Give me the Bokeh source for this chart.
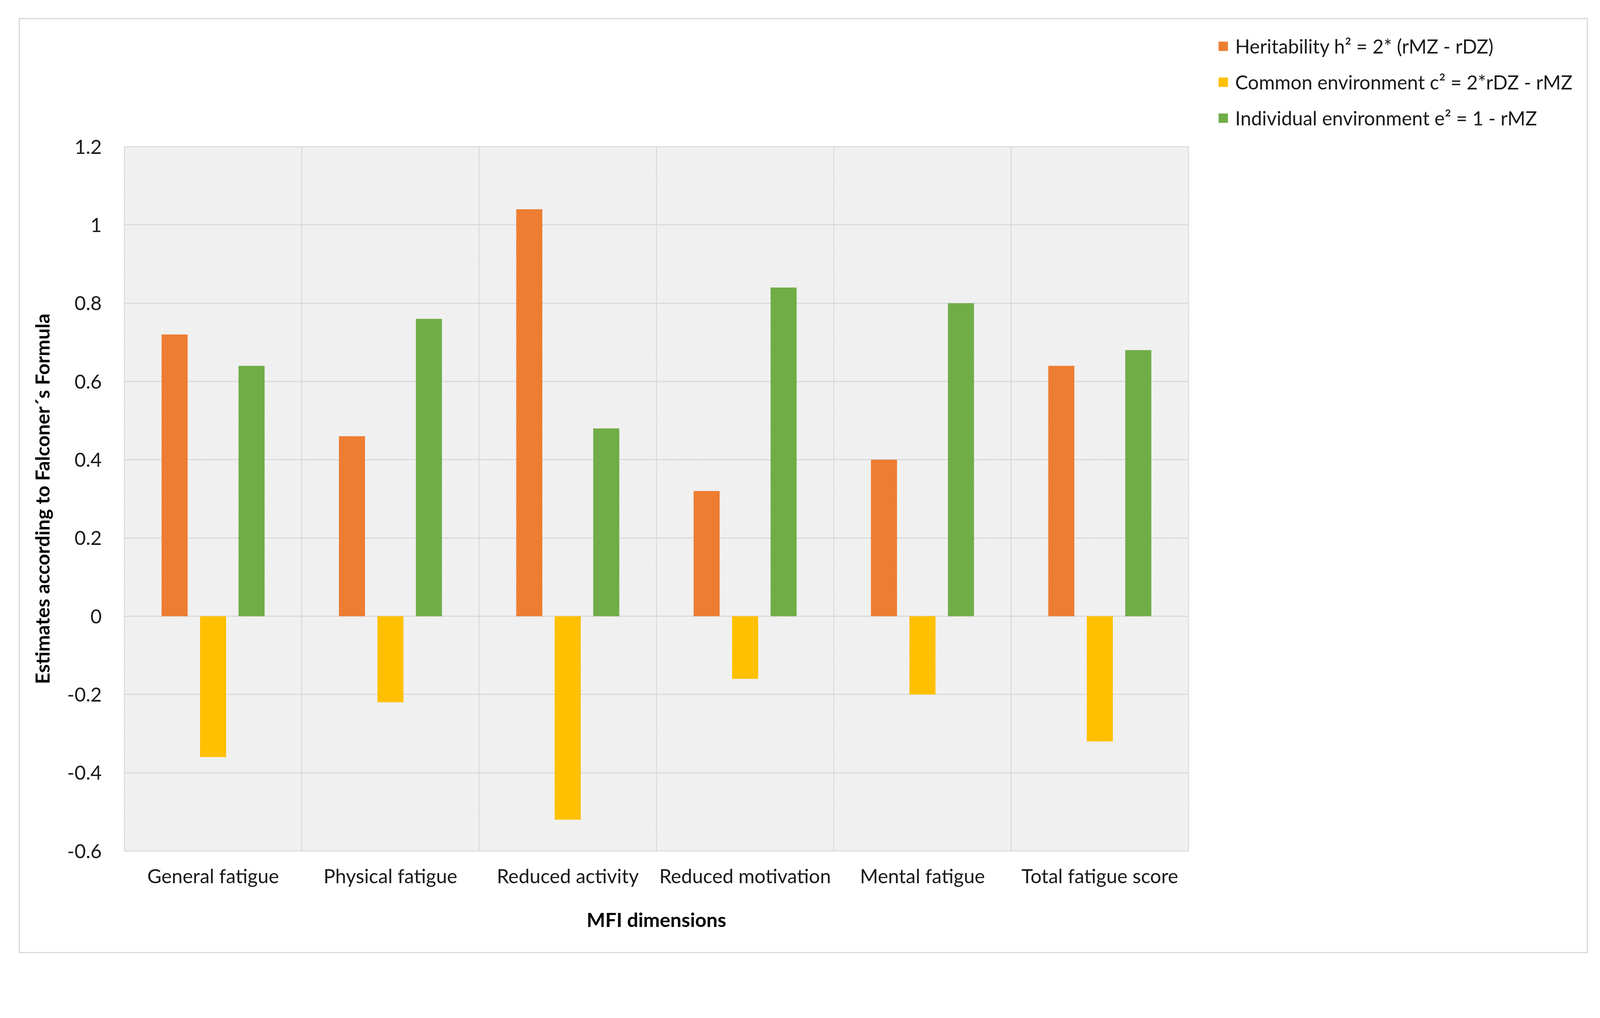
from bokeh.plotting import figure
from bokeh.layouts import row
from bokeh.models import (FactorRange, Range1d, FixedTicker, CustomJSTickFormatter,
                          Span, BoxAnnotation, Legend, LegendItem, ColumnDataSource)
from bokeh.transform import dodge
from bokeh.embed import file_html
from bokeh.resources import INLINE

# ---- data ----
categories = ["General fatigue", "Physical fatigue", "Reduced activity",
              "Reduced motivation", "Mental fatigue", "Total fatigue score"]
heritability = [0.72, 0.46, 1.04, 0.32, 0.40, 0.64]
common_env = [-0.36, -0.22, -0.52, -0.16, -0.20, -0.32]
individual_env = [0.64, 0.76, 0.48, 0.84, 0.80, 0.68]
series_labels = ["Heritability h\u00b2 = 2* (rMZ - rDZ)",
                 "Common environment c\u00b2 = 2*rDZ - rMZ",
                 "Individual environment e\u00b2 = 1 - rMZ"]
y_ticks = [-0.6, -0.4, -0.2, 0, 0.2, 0.4, 0.6, 0.8, 1.0, 1.2]
x_title = "MFI dimensions"
y_title = "Estimates according to Falconer\u00b4s Formula"

colors = ["#ED7D31", "#FFC000", "#70AD47"]
FONT = "Lato"
FS = "50px"
TXT = "#1a1a1a"
GRID = "#d9d9d9"

TOTAL_W, TOTAL_H = 4011, 2388
FRAME_W, FRAME_H = 2724, 1803
ML, MT = 267, 326
MAIN_W = ML + FRAME_W + 6
MB = TOTAL_H - MT - FRAME_H

src = ColumnDataSource(dict(cat=categories, h=heritability, c=common_env, e=individual_env))

p = figure(x_range=FactorRange(*categories), y_range=Range1d(-0.6, 1.2),
           width=MAIN_W, height=TOTAL_H, output_backend="svg", toolbar_location=None,
           min_border_left=ML, min_border_right=6, min_border_top=MT, min_border_bottom=MB)
p.frame_align = False
p.background_fill_color = "white"
p.border_fill_color = "white"
p.outline_line_color = GRID
p.outline_line_width = 2.4

# hatched plot area
p.add_layout(BoxAnnotation(fill_alpha=0, line_color=None, hatch_pattern="\\",
                           hatch_color="#d0d0d0", hatch_scale=7.6, hatch_weight=1.1,
                           level="underlay"))

# vertical gridlines at category boundaries
for b in range(1, len(categories)):
    p.add_layout(Span(location=b, dimension="height", line_color=GRID,
                      line_width=2.4, level="underlay"))

w = 0.147
off = 0.217
r1 = p.vbar(x=dodge("cat", -off, range=p.x_range), top="h", bottom=0, width=w,
            source=src, fill_color=colors[0], line_color=None)
r2 = p.vbar(x=dodge("cat", 0.0, range=p.x_range), top="c", bottom=0, width=w,
            source=src, fill_color=colors[1], line_color=None)
r3 = p.vbar(x=dodge("cat", off, range=p.x_range), top="e", bottom=0, width=w,
            source=src, fill_color=colors[2], line_color=None)

# axes
p.yaxis.ticker = FixedTicker(ticks=y_ticks)
p.yaxis.formatter = CustomJSTickFormatter(code="return String(Math.round(tick*10)/10);")
p.ygrid.ticker = FixedTicker(ticks=y_ticks)
p.ygrid.grid_line_color = GRID
p.ygrid.grid_line_width = 2.4
p.xgrid.grid_line_color = None

for ax in (p.xaxis[0], p.yaxis[0]):
    ax.axis_line_color = None
    ax.major_tick_line_color = None
    ax.minor_tick_line_color = None
    ax.major_label_text_font = FONT
    ax.major_label_text_font_size = FS
    ax.major_label_text_color = TXT
    ax.axis_label_text_font = FONT
    ax.axis_label_text_font_size = "50.5px"
    ax.axis_label_text_font_style = "bold"
    ax.axis_label_text_color = "#000000"

p.yaxis.axis_label = y_title
p.yaxis.major_label_standoff = 52
p.yaxis.axis_label_standoff = 31
p.xaxis.axis_label = x_title
p.xaxis.major_label_standoff = 27
p.xaxis.axis_label_standoff = 48

# ---- legend panel (a second, axis-less figure to the right) ----
q = figure(width=TOTAL_W - MAIN_W, height=TOTAL_H, output_backend="svg",
           toolbar_location=None, x_axis_type=None, y_axis_type=None,
           x_range=Range1d(0, 1), y_range=Range1d(0, 1),
           min_border_left=30, min_border_right=0,
           min_border_top=0, min_border_bottom=0)
q.frame_align = False
q.title.visible = False
q.outline_line_color = None
q.background_fill_color = "white"
q.border_fill_color = "white"
q.grid.visible = False
# legend swatch renderers: one bar each, placed outside the visible range
hidden = ColumnDataSource(dict(x=[-5.0], top=[-5.0]))
swatches = [q.vbar(x="x", top="top", bottom=-6.0, width=0.1, source=hidden,
                   fill_color=c, line_color=None) for c in colors]
legend = Legend(items=[LegendItem(label=lab, renderers=[r])
                       for lab, r in zip(series_labels, swatches)],
                location="top_left", orientation="vertical",
                padding=0, margin=38, spacing=31,
                glyph_width=30, glyph_height=30, label_height=61, label_standoff=16,
                label_text_font=FONT, label_text_font_size="49.5px", label_text_color=TXT,
                border_line_color=None, background_fill_alpha=0)
q.add_layout(legend, "center")

layout = row(p, q, margin=(46, 0, 0, 48), styles={"border": "3px solid #d9d9d9"})

open("out.html", "w").write(file_html(layout, INLINE))
